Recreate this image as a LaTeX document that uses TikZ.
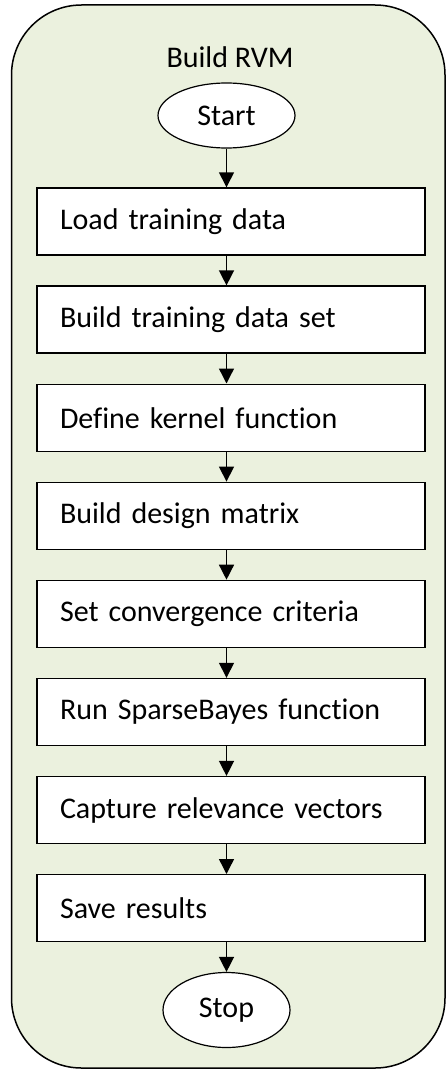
\documentclass[tikz,border=0pt]{standalone}
\usepackage{fontspec}
\setmainfont[Ligatures=NoCommon]{Carlito}
\usepackage{tikz}
\usetikzlibrary{arrows.meta,shapes.geometric}
\definecolor{panelgreen}{RGB}{235,241,222}

\begin{document}
\begin{tikzpicture}[x=1pt,y=-1pt,
  font=\fontsize{30}{36}\selectfont,
  step box/.style={shape=rectangle,draw=black,fill=white,line width=1.4pt,
    minimum width=388pt,minimum height=67pt,text width=342pt,inner xsep=23pt,align=left},
  term/.style={shape=ellipse,draw=black,fill=white,line width=1.2pt,inner sep=0pt},
  flow/.style={line width=1.4pt,-{Triangle[length=15pt,width=15pt]}}]
\def\dy{98.1};
\def\ya{221.5};
\def\xc{231};

\useasboundingbox (0,0) rectangle (446,1070);
\draw[fill=panelgreen,line width=1.5pt,rounded corners=70pt] (11.5,5) rectangle (445,1068);

\node (title) at (230,57) {Build RVM};
\node[term,minimum width=137pt,minimum height=65pt] (start) at (226.5,115.5) {Start};

\node[step box] (load) at (\xc,\ya) {Load training data};
\node[step box] (set) at (\xc,\ya+\dy) {Build training data set};
\node[step box] (kernel) at (\xc,\ya+2*\dy) {Define kernel function};
\node[step box] (design) at (\xc,\ya+3*\dy) {Build design matrix};
\node[step box] (conv) at (\xc,\ya+4*\dy) {Set convergence criteria};
\node[step box] (sparse) at (\xc,\ya+5*\dy) {Run SparseBayes function};
\node[step box] (capture) at (\xc,\ya+6*\dy) {Capture relevance vectors};
\node[step box] (save) at (\xc,\ya+7*\dy) {Save results};

\node[term,minimum width=127pt,minimum height=75pt] (stop) at (226.5,1010) {Stop};

\draw[flow] (start.south) -- (start.south |- load.north);
\draw[flow] (load.south -| start) -- (set.north -| start);
\draw[flow] (set.south -| start) -- (kernel.north -| start);
\draw[flow] (kernel.south -| start) -- (design.north -| start);
\draw[flow] (design.south -| start) -- (conv.north -| start);
\draw[flow] (conv.south -| start) -- (sparse.north -| start);
\draw[flow] (sparse.south -| start) -- (capture.north -| start);
\draw[flow] (capture.south -| start) -- (save.north -| start);
\draw[flow] (save.south -| stop) -- (stop.north);
\end{tikzpicture}
\end{document}
